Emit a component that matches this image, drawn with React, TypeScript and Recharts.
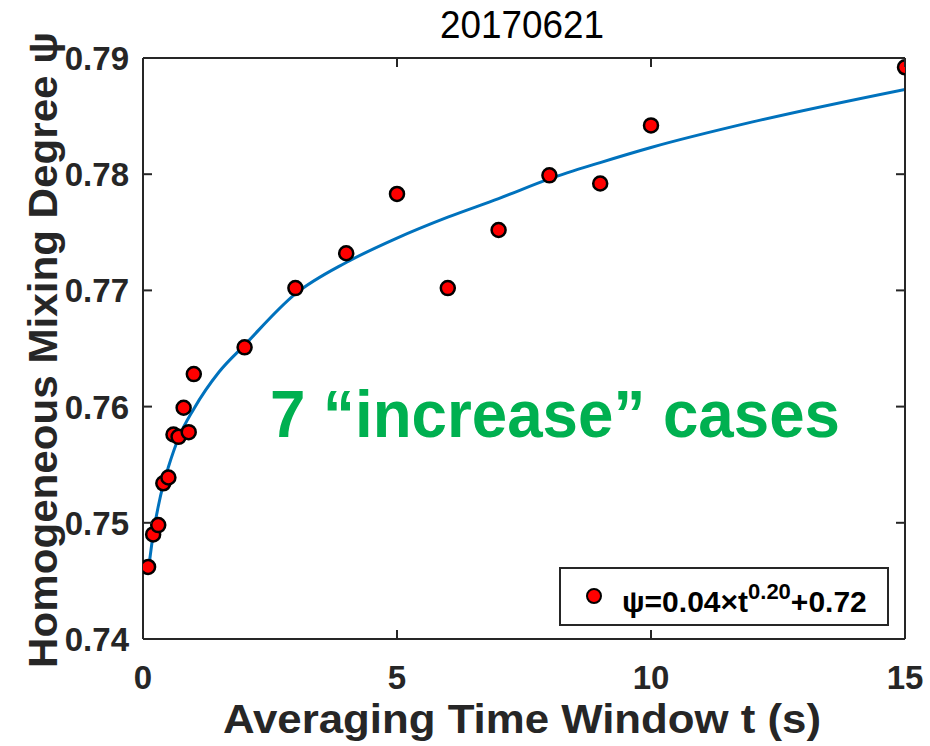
import React from "react";
import { ComposedChart, Line, Scatter, XAxis, YAxis } from "recharts";

// averaging window t (s) and measured mixing degree ψ
const windowT = [0.1, 0.2, 0.3, 0.4, 0.5, 0.6, 0.7, 0.8, 0.9, 1, 2, 3, 4, 5, 6, 7, 8, 9, 10, 15];
const mixingPsi = [
  0.7462, 0.749, 0.7498, 0.7534, 0.7539, 0.7576, 0.7574, 0.7599, 0.7578, 0.7628,
  0.7651, 0.7702, 0.7732, 0.7783, 0.7702, 0.7752, 0.7799, 0.7792, 0.7842, 0.7892,
];

// fitted power-law curve, sampled
const fitT = [0.1, 0.2, 0.3, 0.4, 0.5, 0.7, 1, 1.5, 2, 3, 4, 5, 6, 7, 8, 9, 10, 12, 15];
const fitPsi = [
  0.7457, 0.749, 0.7514, 0.7533, 0.7548, 0.7573, 0.7598, 0.763, 0.7653, 0.7697,
  0.7724, 0.7745, 0.7763, 0.7779, 0.7796, 0.781, 0.7823, 0.7845, 0.7873,
];

const xTicks = [0, 5, 10, 15];
const yTicks = [0.74, 0.75, 0.76, 0.77, 0.78, 0.79];

const points = windowT.map((t, i) => ({ t, psi: mixingPsi[i] }));
const curve = fitT.map((t, i) => ({ t, psi: fitPsi[i] }));

const FONT = '"Liberation Sans", Arial, sans-serif';
const AXIS = "#262626";

const BottomTick = ({ x, y, payload }: any) => (
  <g>
    <line x1={x} x2={x} y1={y} y2={y - 9} stroke={AXIS} strokeWidth={2} />
    <text x={x} y={y + 50} textAnchor="middle" fontFamily={FONT} fontWeight="bold" fontSize={33} fill="#262626">
      {payload.value}
    </text>
  </g>
);

const TopTick = ({ x, y }: any) => <line x1={x} x2={x} y1={y} y2={y + 9} stroke={AXIS} strokeWidth={2} />;

const LeftTick = ({ x, y, payload }: any) => (
  <g>
    <line x1={x} x2={x + 9} y1={y} y2={y} stroke={AXIS} strokeWidth={2} />
    <text x={x - 14} y={y + 12} textAnchor="end" fontFamily={FONT} fontWeight="bold" fontSize={33} fill="#262626">
      {payload.value.toFixed(2)}
    </text>
  </g>
);

const RightTick = ({ x, y }: any) => <line x1={x} x2={x - 9} y1={y} y2={y} stroke={AXIS} strokeWidth={2} />;

const Dot = ({ cx, cy }: any) => <circle cx={cx} cy={cy} r={7} fill="#FF0000" stroke="#000" strokeWidth={2.5} />;

export default function App() {
  return (
    <div style={{ position: "absolute", left: 0, top: 0, width: 930, height: 746, background: "#fff" }}>
      <ComposedChart width={930} height={746} margin={{ top: 57, right: 24, bottom: 0, left: 0 }}>
        <XAxis
          dataKey="t"
          type="number"
          domain={[0, 15]}
          ticks={xTicks}
          height={107}
          tickSize={0}
          tickMargin={0}
          tickLine={false}
          tick={<BottomTick />}
          stroke={AXIS}
          strokeWidth={2}
          allowDataOverflow
        />
        <XAxis
          xAxisId="top"
          dataKey="t"
          orientation="top"
          type="number"
          domain={[0, 15]}
          ticks={xTicks}
          height={1}
          tickSize={0}
          tickMargin={0}
          tickLine={false}
          tick={<TopTick />}
          stroke={AXIS}
          strokeWidth={2}
          allowDataOverflow
        />
        <YAxis
          dataKey="psi"
          type="number"
          domain={[0.74, 0.79]}
          ticks={yTicks}
          width={143}
          tickSize={0}
          tickMargin={0}
          tickLine={false}
          tick={<LeftTick />}
          stroke={AXIS}
          strokeWidth={2}
          allowDataOverflow
        />
        <YAxis
          yAxisId="right"
          dataKey="psi"
          orientation="right"
          type="number"
          domain={[0.74, 0.79]}
          ticks={yTicks}
          width={1}
          tickSize={0}
          tickMargin={0}
          tickLine={false}
          tick={<RightTick />}
          stroke={AXIS}
          strokeWidth={2}
          allowDataOverflow
        />
        {/* invisible series so the box axes get a scale */}
        <Line
          data={curve}
          dataKey="psi"
          xAxisId="top"
          yAxisId="right"
          stroke="none"
          dot={false}
          activeDot={false}
          isAnimationActive={false}
        />
        <Line
          data={curve}
          dataKey="psi"
          type="monotone"
          stroke="#0072BD"
          strokeWidth={3}
          dot={false}
          activeDot={false}
          isAnimationActive={false}
        />
        <Scatter data={points} dataKey="psi" shape={<Dot />} isAnimationActive={false} />
      </ComposedChart>
      <svg
        width={930}
        height={746}
        style={{ position: "absolute", left: 0, top: 0, pointerEvents: "none" }}
        fontFamily={FONT}
      >
        <text x={522} y={38} textAnchor="middle" fontSize={38} textLength={164} lengthAdjust="spacingAndGlyphs" fill="#000">
          20170621
        </text>
        <text
          transform="translate(57,350) rotate(-90)"
          textAnchor="middle"
          fontSize={40}
          fontWeight="bold"
          textLength={636}
          lengthAdjust="spacingAndGlyphs"
          fill="#262626"
        >
          Homogeneous Mixing Degree ψ
        </text>
        <text x={522} y={733} textAnchor="middle" fontSize={40} fontWeight="bold" textLength={598} lengthAdjust="spacingAndGlyphs" fill="#262626">
          Averaging Time Window t (s)
        </text>
        <text x={270} y={437} fontSize={66} fontWeight="bold" textLength={570} lengthAdjust="spacingAndGlyphs" fill="#00B050">
          7 “increase” cases
        </text>
        <rect x={560} y={568} width={328} height={57} fill="#fff" stroke={AXIS} strokeWidth={2} />
        <circle cx={594} cy={596} r={7} fill="#FF0000" stroke="#000" strokeWidth={2} />
        <text x={622} y={612} fontSize={30} fontWeight="bold" fill="#000">
          ψ=0.04×t
          <tspan dy={-13} fontSize={22}>0.20</tspan>
          <tspan dy={13}>+0.72</tspan>
        </text>
      </svg>
    </div>
  );
}
